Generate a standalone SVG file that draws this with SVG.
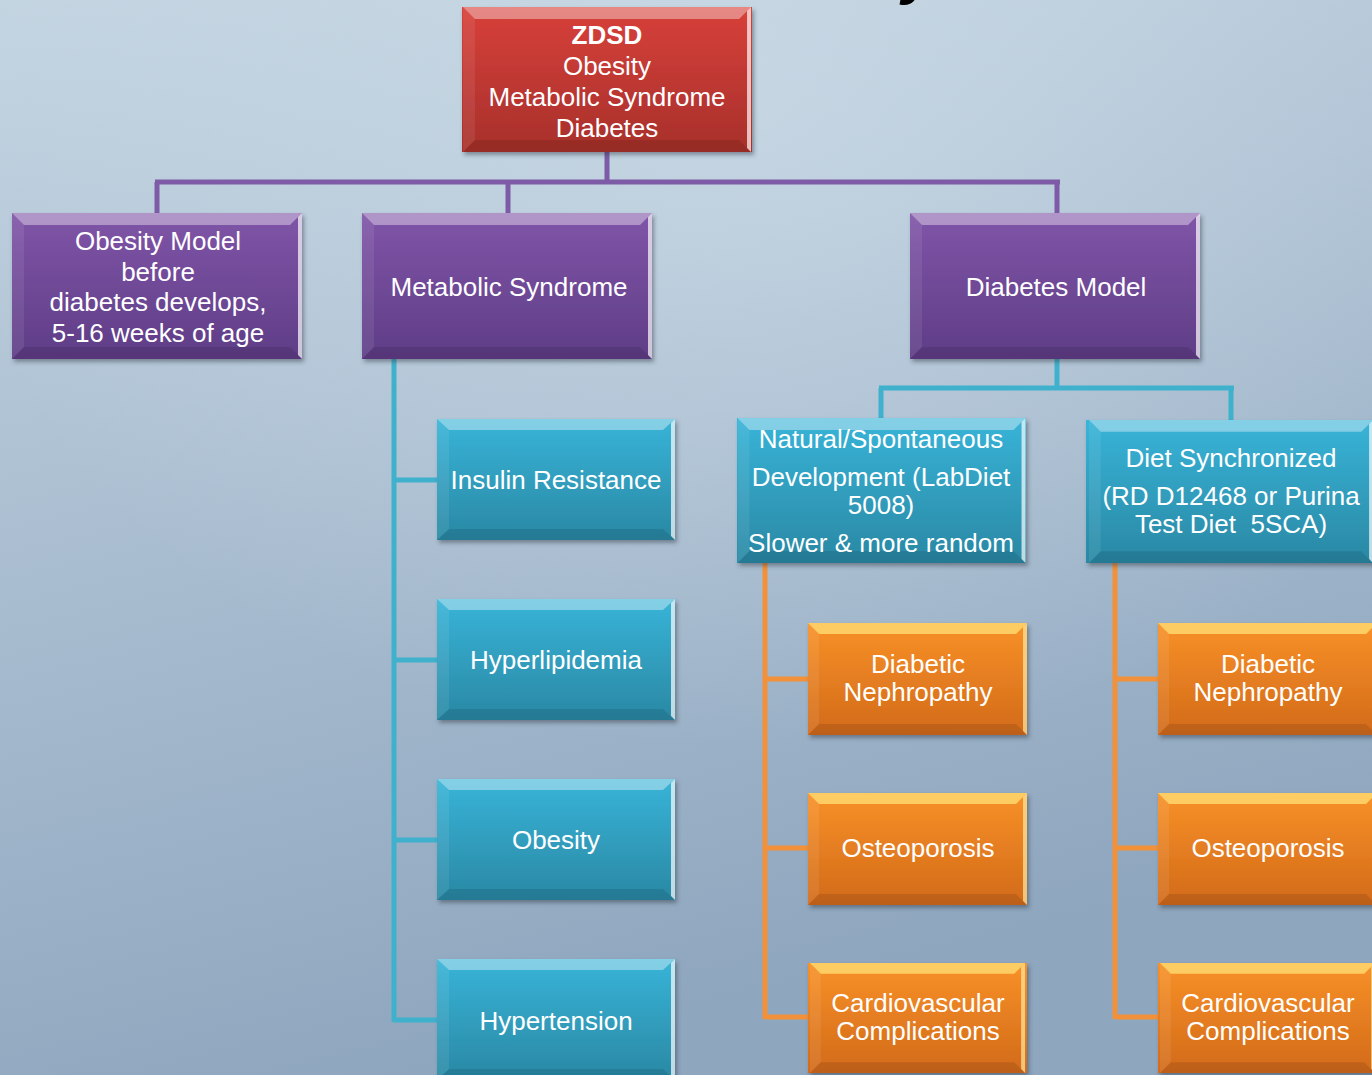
<svg xmlns="http://www.w3.org/2000/svg" width="1372" height="1075" viewBox="0 0 1372 1075">
<style>
.t{fill:#fff;font-family:"Liberation Sans",Arial,sans-serif;font-size:26px;text-anchor:middle;white-space:pre}
.b{font-weight:bold}
.cp{fill:none;stroke:#7d5ba6;stroke-width:5}
.ct{fill:none;stroke:#3fb1cc;stroke-width:5}
.co{fill:none;stroke:#f2913a;stroke-width:5}
.top{fill:#fff;opacity:.38}
.rt{fill:#fff;opacity:.7}
.lf{fill:#fff;opacity:.08}
.bt{fill:#000;opacity:.1}
.sh{filter:url(#shadow)}
</style>
<defs>
<linearGradient id="bg" x1="0" y1="0" x2="0.3" y2="1">
<stop offset="0" stop-color="#c3d4e1"/>
<stop offset="0.5" stop-color="#a9bdd0"/>
<stop offset="1" stop-color="#8ea6be"/>
</linearGradient>
<radialGradient id="bgl" cx="0.55" cy="0.1" r="0.6">
<stop offset="0" stop-color="#d4e2ec" stop-opacity=".5"/>
<stop offset="1" stop-color="#d4e2ec" stop-opacity="0"/>
</radialGradient>
<linearGradient id="gRed" x1="0" y1="0" x2="0" y2="1">
<stop offset="0" stop-color="#d8403a"/>
<stop offset="1" stop-color="#a7302b"/>
</linearGradient>
<linearGradient id="gPur" x1="0" y1="0" x2="0" y2="1">
<stop offset="0" stop-color="#8055a8"/>
<stop offset="1" stop-color="#5f3d86"/>
</linearGradient>
<linearGradient id="gTeal" x1="0" y1="0" x2="0" y2="1">
<stop offset="0" stop-color="#38b4d8"/>
<stop offset="1" stop-color="#2a88a4"/>
</linearGradient>
<linearGradient id="gOr" x1="0" y1="0" x2="0" y2="1">
<stop offset="0" stop-color="#f89127"/>
<stop offset="1" stop-color="#d26a1a"/>
</linearGradient>
<filter id="shadow" x="-10%" y="-10%" width="125%" height="130%">
<feDropShadow dx="2" dy="3" stdDeviation="2" flood-color="#2a3440" flood-opacity=".45"/>
</filter>
<symbol id="bxL" viewBox="0 0 290 146" overflow="visible">
<polygon class="top" points="0,0 290,0 278,12 12,12"/>
<polygon class="rt" points="290,0 290,146 286,142 286,4"/>
<polygon class="lf" points="0,0 12,12 12,134 0,146"/>
<polygon class="bt" points="0,146 12,134 278,134 290,146"/>
</symbol>
<symbol id="bxT" viewBox="0 0 238 121" overflow="visible">
<polygon class="top" points="0,0 238,0 226,11 12,11"/>
<polygon class="rt" points="238,0 238,121 234,117 234,4"/>
<polygon class="lf" points="0,0 12,11 12,110 0,121"/>
<polygon class="bt" points="0,121 12,110 226,110 238,121"/>
</symbol>
<symbol id="bxO" viewBox="0 0 219 112" overflow="visible">
<polygon class="top" points="0,0 219,0 208,11 11,11" style="fill:#ffe27a;opacity:.75"/>
<polygon class="rt" points="219,0 219,112 215,108 215,4" style="fill:#ffe9a0"/>
<polygon class="lf" points="0,0 11,11 11,101 0,112"/>
<polygon class="bt" points="0,112 11,101 208,101 219,112"/>
</symbol>
</defs>
<rect width="1372" height="1075" fill="url(#bg)"/>
<rect width="1372" height="1075" fill="url(#bgl)"/>
<text x="902" y="-7" style="font-family:'Liberation Sans',Arial,sans-serif;font-size:60px;font-weight:bold;font-style:italic;fill:#000">y</text>

<g id="connectors">
<path class="cp" d="M607 152V182M155 182H1060M157 182V213M508 182V213M1057 182V213"/>
<path class="ct" d="M394 359V1022M394 480H437M394 660H437M394 840H437M394 1020H437"/>
<path class="ct" d="M1057 359V388M879 388H1234M881 388V418M1231 388V420"/>
<path class="co" d="M765 563V1019M765 679H808M765 848H808M765 1017H808"/>
<path class="co" d="M1115 563V1019M1115 679H1158M1115 848H1158M1115 1017H1158"/>
</g>

<g id="n-zdsd">
<rect class="sh" x="462" y="7" width="290" height="145" fill="url(#gRed)"/>
<use href="#bxL" x="462" y="7" width="290" height="145"/>
<text class="t b" x="607" y="44">ZDSD</text>
<text class="t" x="607" y="75">Obesity</text>
<text class="t" x="607" y="106">Metabolic Syndrome</text>
<text class="t" x="607" y="137">Diabetes</text>
</g>

<g id="n-obesity-model">
<rect class="sh" x="12" y="213" width="290" height="146" fill="url(#gPur)"/>
<use href="#bxL" x="12" y="213" width="290" height="146"/>
<text class="t" x="158" y="250">Obesity Model</text>
<text class="t" x="158" y="281">before</text>
<text class="t" x="158" y="311">diabetes develops,</text>
<text class="t" x="158" y="342">5-16 weeks of age</text>
</g>

<g id="n-metabolic">
<rect class="sh" x="362" y="213" width="290" height="146" fill="url(#gPur)"/>
<use href="#bxL" x="362" y="213" width="290" height="146"/>
<text class="t" x="509" y="296">Metabolic Syndrome</text>
</g>

<g id="n-diabetes-model">
<rect class="sh" x="910" y="213" width="290" height="146" fill="url(#gPur)"/>
<use href="#bxL" x="910" y="213" width="290" height="146"/>
<text class="t" x="1056" y="296">Diabetes Model</text>
</g>

<g id="n-insulin">
<rect class="sh" x="437" y="419" width="238" height="121" fill="url(#gTeal)"/>
<use href="#bxT" x="437" y="419" width="238" height="121"/>
<text class="t" x="556" y="489">Insulin Resistance</text>
</g>

<g id="n-hyperlipidemia">
<rect class="sh" x="437" y="599" width="238" height="121" fill="url(#gTeal)"/>
<use href="#bxT" x="437" y="599" width="238" height="121"/>
<text class="t" x="556" y="669">Hyperlipidemia</text>
</g>

<g id="n-obesity">
<rect class="sh" x="437" y="779" width="238" height="121" fill="url(#gTeal)"/>
<use href="#bxT" x="437" y="779" width="238" height="121"/>
<text class="t" x="556" y="849">Obesity</text>
</g>

<g id="n-hypertension">
<rect class="sh" x="437" y="959" width="238" height="121" fill="url(#gTeal)"/>
<use href="#bxT" x="437" y="959" width="238" height="121"/>
<text class="t" x="556" y="1030">Hypertension</text>
</g>

<g id="n-natural">
<rect class="sh" x="737" y="418" width="289" height="145" fill="url(#gTeal)"/>
<use href="#bxL" x="737" y="418" width="289" height="145"/>
<text class="t" x="881" y="448">Natural/Spontaneous</text>
<text class="t" x="881" y="486">Development (LabDiet</text>
<text class="t" x="881" y="514">5008)</text>
<text class="t" x="881" y="552">Slower &amp; more random</text>
</g>

<g id="n-diet">
<rect class="sh" x="1086" y="420" width="290" height="143" fill="url(#gTeal)"/>
<use href="#bxL" x="1086" y="420" width="290" height="143"/>
<text class="t" x="1231" y="467">Diet Synchronized</text>
<text class="t" x="1231" y="505">(RD D12468 or Purina</text>
<text class="t" x="1231" y="533">Test Diet  5SCA)</text>
</g>

<g id="n-nephro-1">
<rect class="sh" x="808" y="623" width="219" height="112" fill="url(#gOr)"/>
<use href="#bxO" x="808" y="623" width="219" height="112"/>
<text class="t" x="918" y="673">Diabetic</text>
<text class="t" x="918" y="701">Nephropathy</text>
</g>

<g id="n-osteo-1">
<rect class="sh" x="808" y="793" width="219" height="112" fill="url(#gOr)"/>
<use href="#bxO" x="808" y="793" width="219" height="112"/>
<text class="t" x="918" y="857">Osteoporosis</text>
</g>

<g id="n-cardio-1">
<rect class="sh" x="808" y="963" width="219" height="110" fill="url(#gOr)"/>
<use href="#bxO" x="808" y="963" width="219" height="110"/>
<text class="t" x="918" y="1012">Cardiovascular</text>
<text class="t" x="918" y="1040">Complications</text>
</g>

<g id="n-nephro-2">
<rect class="sh" x="1158" y="623" width="219" height="112" fill="url(#gOr)"/>
<use href="#bxO" x="1158" y="623" width="219" height="112"/>
<text class="t" x="1268" y="673">Diabetic</text>
<text class="t" x="1268" y="701">Nephropathy</text>
</g>

<g id="n-osteo-2">
<rect class="sh" x="1158" y="793" width="219" height="112" fill="url(#gOr)"/>
<use href="#bxO" x="1158" y="793" width="219" height="112"/>
<text class="t" x="1268" y="857">Osteoporosis</text>
</g>

<g id="n-cardio-2">
<rect class="sh" x="1158" y="963" width="219" height="110" fill="url(#gOr)"/>
<use href="#bxO" x="1158" y="963" width="219" height="110"/>
<text class="t" x="1268" y="1012">Cardiovascular</text>
<text class="t" x="1268" y="1040">Complications</text>
</g>
</svg>
